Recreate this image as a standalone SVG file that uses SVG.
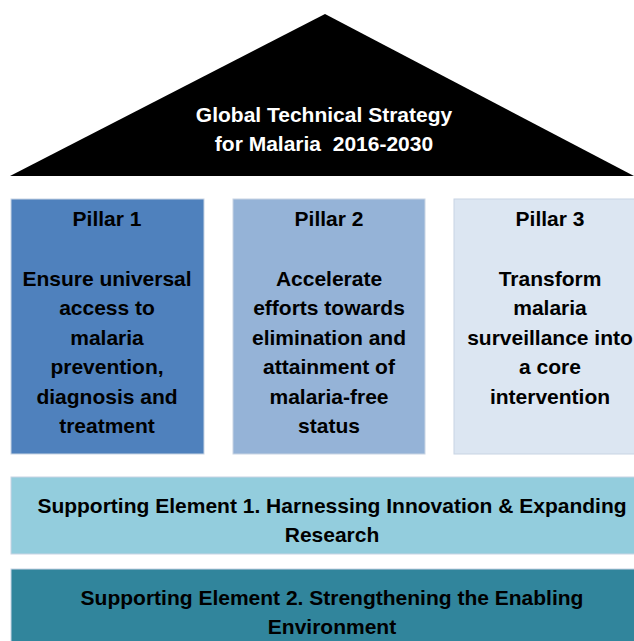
<svg xmlns="http://www.w3.org/2000/svg" width="634" height="641" viewBox="0 0 634 641">
<style>
text{font-family:"Liberation Sans",Arial,sans-serif;font-weight:bold;font-size:21px;text-anchor:middle;fill:#000}
.w{fill:#fff}
.box{stroke:#c8d4e3;stroke-width:1}
</style>
<rect width="634" height="641" fill="#fff"/>
<g id="roof">
<polygon points="325,14 10,176 634,176" fill="#000"/>
<text class="w" x="324" y="122">Global Technical Strategy</text>
<text class="w" x="324" y="151">for Malaria&#160; 2016-2030</text>
</g>
<g id="pillar1">
<rect class="box" x="11" y="199" width="193" height="255" fill="#4F81BD"/>
<text x="107" y="226">Pillar 1</text>
<text x="107" y="286">Ensure universal</text>
<text x="107" y="315">access to</text>
<text x="107" y="345">malaria</text>
<text x="107" y="374">prevention,</text>
<text x="107" y="404">diagnosis and</text>
<text x="107" y="433">treatment</text>
</g>
<g id="pillar2">
<rect class="box" x="233" y="199" width="192" height="255" fill="#95B3D7"/>
<text x="329" y="226">Pillar 2</text>
<text x="329" y="286">Accelerate</text>
<text x="329" y="315">efforts towards</text>
<text x="329" y="345">elimination and</text>
<text x="329" y="374">attainment of</text>
<text x="329" y="404">malaria-free</text>
<text x="329" y="433">status</text>
</g>
<g id="pillar3">
<rect class="box" x="454" y="199" width="190" height="255" fill="#DCE6F2"/>
<text x="550" y="226">Pillar 3</text>
<text x="550" y="286">Transform</text>
<text x="550" y="315">malaria</text>
<text x="550" y="345">surveillance into</text>
<text x="550" y="374">a core</text>
<text x="550" y="404">intervention</text>
</g>
<g id="support1">
<rect class="box" x="11" y="477" width="633" height="77" fill="#93CDDD"/>
<text x="332" y="513">Supporting Element 1. Harnessing Innovation &amp; Expanding</text>
<text x="332" y="542">Research</text>
</g>
<g id="support2">
<rect class="box" x="11" y="569" width="633" height="80" fill="#31859C"/>
<text x="332" y="605">Supporting Element 2. Strengthening the Enabling</text>
<text x="332" y="634">Environment</text>
</g>
<g id="connectors"></g>
</svg>
